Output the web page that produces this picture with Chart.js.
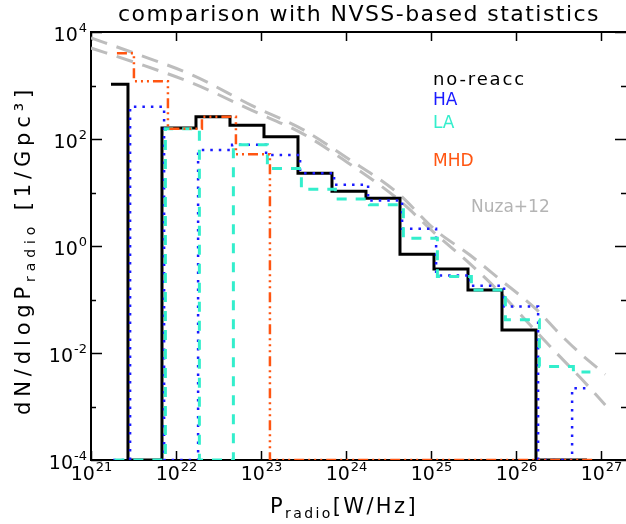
<!DOCTYPE html>
<html>
<head>
<meta charset="utf-8">
<script src="https://cdn.jsdelivr.net/npm/chart.js@4.4.1/dist/chart.umd.min.js"></script>
<style>
  html, body { margin: 0; padding: 0; background: #fff; }
  #wrap { width: 626px; height: 524px; }
</style>
</head>
<body>
<div id="wrap"><canvas id="myChart" width="626" height="524"></canvas></div>
<script>
'use strict';

// log10 of the bin centres, P_radio in W/Hz
let logP = [21.235, 21.635, 22.035, 22.435, 22.835, 23.235, 23.635, 24.035, 24.435, 24.835, 25.235, 25.635, 26.035, 26.435, 26.835];

// dN/dlogP [1/Gpc^3], 0 = empty bin
let noReacc = [1050, 0, 160, 260, 180, 110, 23, 10.5, 7.8, 0.7, 0.37, 0.15, 0.027, 0, 0];
let ha = [0, 400, 0, 62, 78, 50, 23, 14, 7.1, 2.1, 0.28, 0.18, 0.074, 0, 0.0022];
let la = [0, 0, 155, 0, 78, 28, 11.5, 7.6, 5.9, 1.4, 0.27, 0.15, 0.042, 0.0056, 0.0044];
let mhd = [4000, 1200, 155, 260, 52, 0, 0, 0, 0, 0, 0, 0, 0, 0, 0];

// Nuza+12 curves (log10 P, log10 dN/dlogP)
let nuzaLogP = [21.0, 21.5, 22.2, 22.9, 23.5, 24.0, 24.6, 25.05, 25.45, 25.8, 26.25, 26.5, 26.75, 27.05];
let nuzaA = [3.89, 3.61, 3.19, 2.62, 2.17, 1.66, 1.0, 0.30, -0.16, -0.61, -1.2, -1.62, -2.0, -2.4];
let nuzaB = [3.70, 3.44, 3.04, 2.53, 2.09, 1.58, 0.89, 0.23, -0.32, -0.85, -1.62, -2.04, -2.45, -2.97];

let xTickExp = [21, 22, 23, 24, 25, 26, 27];
let yTickExp = [-4, -3, -2, -1, 0, 1, 2, 3, 4];
let yLabelExp = [-4, -2, 0, 2, 4];

let yMin = 1e-4;
let yMax = 1e4;

function histPoints(values, shift){
  let pts = [];
  for (let i = 0; i < values.length; i++){
    let v = values[i] > 0 ? values[i] : yMin;
    pts.push({x: Math.pow(10, logP[i] + shift), y: v});
  }
  return pts;
}

function curvePoints(logY){
  let pts = [];
  for (let i = 0; i < logY.length; i++){
    pts.push({x: Math.pow(10, nuzaLogP[i]), y: Math.pow(10, logY[i])});
  }
  return pts;
}

let textFont = '"DejaVu Sans", sans-serif';

function powLabel(ctx, exp, x, y, align){
  let base = '10';
  let sup = String(exp);
  ctx.font = '19px ' + textFont;
  let wb = ctx.measureText(base).width;
  ctx.font = '13px ' + textFont;
  let ws = ctx.measureText(sup).width;
  let start = align === 'right' ? x - wb - ws : x - (wb + ws) / 2;
  ctx.textAlign = 'left';
  ctx.textBaseline = 'alphabetic';
  ctx.font = '19px ' + textFont;
  ctx.fillText(base, start, y);
  ctx.font = '13px ' + textFont;
  ctx.fillText(sup, start + wb + 1, y - 9);
}

// draws text pieces [text, size, dy] one after another, spread to a given width
function spacedText(ctx, parts, x, y, width){
  ctx.letterSpacing = '0px';
  let natural = 0;
  let count = 0;
  parts.forEach(function(p){
    ctx.font = p[1] + 'px ' + textFont;
    natural += ctx.measureText(p[0]).width;
    count += p[0].length;
  });
  let gap = Math.max(0, (width - natural) / count);
  ctx.letterSpacing = gap + 'px';
  let cx = x;
  parts.forEach(function(p){
    ctx.font = p[1] + 'px ' + textFont;
    ctx.fillText(p[0], cx, y + p[2]);
    cx += ctx.measureText(p[0]).width;
  });
  ctx.letterSpacing = '0px';
}

let axesPlugin = {
  id: 'axesPlugin',
  beforeDatasetsDraw(chart){
    let ctx = chart.ctx;
    let a = chart.chartArea;
    let xs = chart.scales.x;
    let ys = chart.scales.y;
    ctx.save();
    ctx.strokeStyle = '#000';
    ctx.lineWidth = 2;
    ctx.beginPath();
    ctx.moveTo(a.right, a.top);
    ctx.lineTo(a.left, a.top);
    ctx.lineTo(a.left, a.bottom);
    ctx.lineTo(a.right, a.bottom);
    ctx.stroke();

    ctx.lineWidth = 1.5;
    ctx.beginPath();
    xTickExp.forEach(function(e){
      let px = Math.round(xs.getPixelForValue(Math.pow(10, e))) + 0.5;
      ctx.moveTo(px, a.bottom); ctx.lineTo(px, a.bottom - 9);
      ctx.moveTo(px, a.top); ctx.lineTo(px, a.top + 9);
    });
    yTickExp.forEach(function(e){
      let py = Math.round(ys.getPixelForValue(Math.pow(10, e))) + 0.5;
      let len = (e % 2 === 0) ? 11 : 5;
      ctx.moveTo(a.left, py); ctx.lineTo(a.left + len, py);
      ctx.moveTo(a.right, py); ctx.lineTo(a.right - len, py);
    });
    ctx.stroke();
    ctx.restore();
  },
  afterDraw(chart){
    let ctx = chart.ctx;
    let xs = chart.scales.x;
    let ys = chart.scales.y;
    ctx.save();
    ctx.fillStyle = '#000';

    xTickExp.forEach(function(e){
      powLabel(ctx, e, xs.getPixelForValue(Math.pow(10, e)), 480, 'center');
    });
    yLabelExp.forEach(function(e){
      let py = ys.getPixelForValue(Math.pow(10, e));
      powLabel(ctx, e, 86, py + 9, 'right');
    });

    ctx.textAlign = 'left';
    ctx.textBaseline = 'alphabetic';

    // title
    spacedText(ctx, [['comparison with NVSS-based statistics', 22, 0]], 118, 21, 482);

    // x axis title
    spacedText(ctx, [['P', 21, 0], ['radio', 14, 5], ['[W/Hz]', 21, 0]], 270, 513, 148);

    // y axis title
    ctx.save();
    ctx.translate(30, 415);
    ctx.rotate(-Math.PI / 2);
    spacedText(ctx, [['dN/dlogP', 21, 0], ['radio', 14, 5], [' [1/Gpc\u00b3]', 21, 0]], 0, 0, 330);
    ctx.restore();

    // legend
    ctx.textBaseline = 'middle';
    ctx.fillStyle = '#000';
    spacedText(ctx, [['no-reacc', 18, 0]], 433, 80, 93);
    ctx.font = '17px ' + textFont;
    ctx.fillStyle = '#1a1aff';
    ctx.fillText('HA', 433, 101);
    ctx.fillStyle = '#33eecc';
    ctx.fillText('LA', 433, 124);
    ctx.fillStyle = '#ff5511';
    ctx.fillText('MHD', 433, 162);
    ctx.fillStyle = '#b4b4b4';
    ctx.fillText('Nuza+12', 471, 208);
    ctx.restore();
  }
};

let ctx = document.getElementById('myChart').getContext('2d');
let myChart = new Chart(ctx, {
  type: 'line',
  data: {
    datasets: [{
      label: 'MHD',
      data: histPoints(mhd, 0.07),
      stepped: 'middle',
      borderColor: '#ff5511',
      borderWidth: 2.5,
      borderDash: [10, 4, 2, 4, 2, 4, 2, 4]
    }, {
      label: 'LA',
      data: histPoints(la, 0.04),
      stepped: 'middle',
      borderColor: '#33eecc',
      borderWidth: 3,
      borderDash: [10, 9]
    }, {
      label: 'HA',
      data: histPoints(ha, 0.025),
      stepped: 'middle',
      borderColor: '#1a1aff',
      borderWidth: 2.5,
      borderDash: [2.5, 6]
    }, {
      label: 'no-reacc',
      data: histPoints(noReacc, 0),
      stepped: 'middle',
      borderColor: '#000000',
      borderWidth: 3
    }, {
      label: 'Nuza+12 a',
      data: curvePoints(nuzaA),
      borderColor: '#bdbdbd',
      borderWidth: 3,
      borderDash: [17, 10],
      cubicInterpolationMode: 'monotone'
    }, {
      label: 'Nuza+12 b',
      data: curvePoints(nuzaB),
      borderColor: '#bdbdbd',
      borderWidth: 3,
      borderDash: [17, 10],
      cubicInterpolationMode: 'monotone'
    }]
  },
  options: {
    responsive: false,
    animation: false,
    layout: { padding: { left: 91, right: 0, top: 32, bottom: 64 } },
    elements: { point: { radius: 0 }, line: { fill: false } },
    plugins: {
      legend: { display: false },
      tooltip: { enabled: false },
      title: { display: false }
    },
    scales: {
      x: {
        type: 'logarithmic',
        min: 1e21,
        max: Math.pow(10, 27.294),
        ticks: { display: false },
        grid: { display: false, drawTicks: false },
        border: { display: false },
        afterFit(s){ s.height = 0; }
      },
      y: {
        type: 'logarithmic',
        min: yMin,
        max: yMax,
        ticks: { display: false },
        grid: { display: false, drawTicks: false },
        border: { display: false },
        afterFit(s){ s.width = 0; }
      }
    }
  },
  plugins: [axesPlugin]
});
</script>
</body>
</html>
